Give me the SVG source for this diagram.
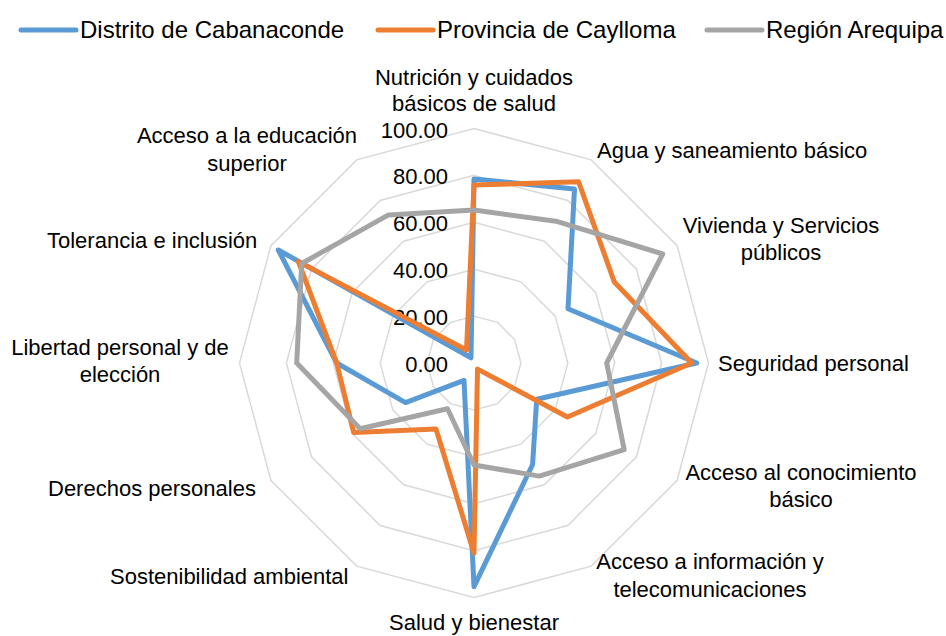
<svg xmlns="http://www.w3.org/2000/svg" width="946" height="636" viewBox="0 0 946 636">
<style>
text{font-family:"Liberation Sans",Arial,sans-serif;fill:#000}
.lbl{font-size:22px}
.ax{font-size:22px;text-anchor:end}
.leg{font-size:24px}
.mid{text-anchor:middle}
.grid{fill:none;stroke:#d9d9d9;stroke-width:1.5}
.s{fill:none;stroke-width:5;stroke-linejoin:round;stroke-linecap:round}
.blue{stroke:#5b9bd5}
.orange{stroke:#ed7d31}
.grey{stroke:#a5a5a5}
</style>
<rect width="946" height="636" fill="#fff"/>
<g id="legend">
<line class="s blue" x1="21" y1="30" x2="76" y2="30"/>
<text class="leg" x="80" y="38">Distrito de Cabanaconde</text>
<line class="s orange" x1="378" y1="30" x2="433" y2="30"/>
<text class="leg" x="437" y="38">Provincia de Caylloma</text>
<line class="s grey" x1="707" y1="30" x2="762" y2="30"/>
<text class="leg" x="766" y="38">Región Arequipa</text>
</g>
<g id="grid">
<polygon class="grid" points="474,128.5 591.25,159.9 677.1,245.75 708.5,363 677.1,480.25 591.25,566.1 474,597.5 356.75,566.1 270.9,480.25 239.5,363 270.9,245.75 356.75,159.9"/>
<polygon class="grid" points="474,175.4 567.8,200.5 636.5,269.2 661.6,363 636.5,456.8 567.8,525.5 474,550.6 380.2,525.5 311.5,456.8 286.4,363 311.5,269.2 380.2,200.5"/>
<polygon class="grid" points="474,222.3 544.35,241.2 595.8,292.65 614.7,363 595.8,433.35 544.35,484.8 474,503.7 403.65,484.8 352.2,433.35 333.3,363 352.2,292.65 403.65,241.2"/>
<polygon class="grid" points="474,269.2 520.9,281.8 555.2,316.1 567.8,363 555.2,409.9 520.9,444.2 474,456.8 427.1,444.2 392.8,409.9 380.2,363 392.8,316.1 427.1,281.8"/>
<polygon class="grid" points="474,316.1 497.45,322.4 514.6,339.55 520.9,363 514.6,386.45 497.45,403.6 474,409.9 450.55,403.6 433.4,386.45 427.1,363 433.4,339.55 450.55,322.4"/>
</g>
<g id="axis-values">
<text class="ax" x="448" y="137.5">100.00</text>
<text class="ax" x="448" y="184.4">80.00</text>
<text class="ax" x="448" y="231.3">60.00</text>
<text class="ax" x="448" y="278.2">40.00</text>
<text class="ax" x="448" y="325.1">20.00</text>
<text class="ax" x="448" y="372">0.00</text>
</g>
<g id="series">
<polygon id="s-cabanaconde" class="s blue" points="474,179 574.5,189 568,308.7 696.7,363 536.7,399.2 532.6,464.5 474,586.7 464,380.4 405.5,402.6 336.7,363 278.3,250 471,357.8"/>
<polygon id="s-caylloma" class="s orange" points="474,185 578.6,181.8 614.3,282 691.7,363 567.4,417 477.5,369.1 474,553.3 436,428.9 353.7,432.5 336.7,363 298.4,261.6 466.5,350"/>
<polygon id="s-arequipa" class="s grey" points="474,210 555.9,221.2 662.7,254 606.7,363 624.2,449.7 539.3,476.1 474,465 447.5,408.8 360.2,428.7 296.7,363 301.7,263.5 388.5,214.9"/>
</g>
<g id="category-labels">
<g id="lab-nutricion"><text class="lbl mid" x="474" y="85">Nutrición y cuidados</text><text class="lbl mid" x="474" y="111">básicos de salud</text></g>
<g id="lab-agua"><text class="lbl" x="597" y="158">Agua y saneamiento básico</text></g>
<g id="lab-vivienda"><text class="lbl mid" x="781" y="233">Vivienda y Servicios</text><text class="lbl mid" x="781" y="260">públicos</text></g>
<g id="lab-seguridad"><text class="lbl" x="718" y="371">Seguridad personal</text></g>
<g id="lab-conocimiento"><text class="lbl mid" x="801" y="480">Acceso al conocimiento</text><text class="lbl mid" x="801" y="507">básico</text></g>
<g id="lab-informacion"><text class="lbl mid" x="710" y="569">Acceso a información y</text><text class="lbl mid" x="710" y="597">telecomunicaciones</text></g>
<g id="lab-salud"><text class="lbl mid" x="474" y="630">Salud y bienestar</text></g>
<g id="lab-sostenibilidad"><text class="lbl" x="110" y="584">Sostenibilidad ambiental</text></g>
<g id="lab-derechos"><text class="lbl" x="48" y="496">Derechos personales</text></g>
<g id="lab-libertad"><text class="lbl mid" x="120" y="355">Libertad personal y de</text><text class="lbl mid" x="120" y="382">elección</text></g>
<g id="lab-tolerancia"><text class="lbl" x="47" y="248">Tolerancia e inclusión</text></g>
<g id="lab-educacion"><text class="lbl mid" x="247" y="143">Acceso a la educación</text><text class="lbl mid" x="247" y="171">superior</text></g>
</g>
</svg>
